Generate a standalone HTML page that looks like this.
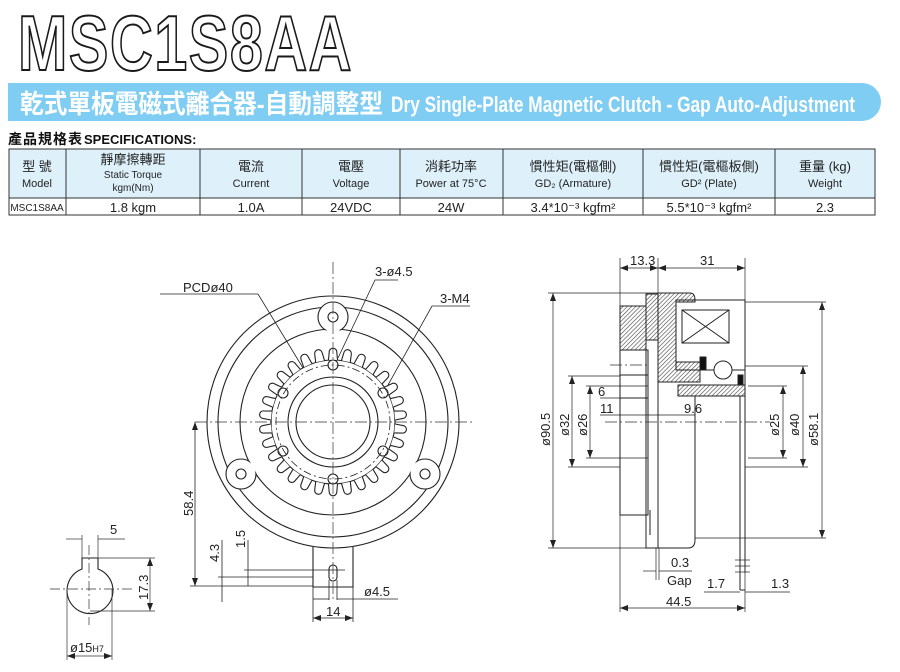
<!DOCTYPE html>
<html><head><meta charset="utf-8"><style>
html,body{margin:0;padding:0;background:#fff;width:900px;height:672px;overflow:hidden;position:relative}
svg{display:block}
text{font-family:"Liberation Sans","Noto Sans CJK TC",sans-serif}
#title{position:absolute;left:18px;top:4px;font-family:"Liberation Sans",sans-serif;font-weight:bold;font-size:78px;line-height:78px;color:#fff;-webkit-text-stroke:2px #1a1a1a;transform-origin:0 0;transform:scale(0.76,1);white-space:nowrap;letter-spacing:2px}
</style></head><body>
<svg width="900" height="672" viewBox="0 0 900 672" xmlns="http://www.w3.org/2000/svg">
<defs>
<pattern id="h" width="3" height="3" patternUnits="userSpaceOnUse" patternTransform="rotate(45)">
<rect width="3" height="3" fill="#fff"/><line x1="0" y1="0" x2="0" y2="3" stroke="#444" stroke-width="1.2"/></pattern>
<path id="tooth" d="M-4.5,-62 L-3.8,-70 A3.8,3.8 0 0 1 3.8,-70 L4.5,-62" fill="#fff" stroke="#222" stroke-width="1.1"/>
<marker id="a" markerWidth="8" markerHeight="6" refX="8" refY="3" orient="auto-start-reverse" markerUnits="userSpaceOnUse"><path d="M0,0 L8,3 L0,6 Z" fill="#222"/></marker>
</defs>

<!-- Banner -->
<path d="M8,83 H862 A19,19 0 0 1 862,121 H8 Z" fill="#7fcdf3"/>
<text x="20" y="113" font-size="26" font-weight="bold" fill="#fff" textLength="363" lengthAdjust="spacingAndGlyphs" font-family="'Noto Sans CJK TC',sans-serif">乾式單板電磁式離合器-自動調整型</text>
<text x="391" y="112" font-size="22" font-weight="bold" fill="#fff" textLength="464" lengthAdjust="spacingAndGlyphs">Dry Single-Plate Magnetic Clutch - Gap Auto-Adjustment</text>

<text x="8" y="144" font-size="14" font-weight="bold" fill="#111" font-family="'Noto Sans CJK TC',sans-serif" letter-spacing="1">產品規格表</text>
<text x="84" y="144" font-size="13" font-weight="bold" fill="#111">SPECIFICATIONS:</text>

<!-- Table -->
<rect x="9" y="149" width="866" height="49" fill="#def1fb"/>
<g stroke="#333" stroke-width="1" fill="none">
<rect x="9" y="149" width="866" height="66"/>
<line x1="9" y1="198" x2="875" y2="198"/>
<line x1="66" y1="149" x2="66" y2="215"/><line x1="200" y1="149" x2="200" y2="215"/>
<line x1="302" y1="149" x2="302" y2="215"/><line x1="400" y1="149" x2="400" y2="215"/>
<line x1="503" y1="149" x2="503" y2="215"/><line x1="643" y1="149" x2="643" y2="215"/>
<line x1="775" y1="149" x2="775" y2="215"/>
</g>
<g font-size="11" fill="#222" text-anchor="middle">
<text x="37" y="171" font-size="13">型 號</text><text x="37" y="187">Model</text>
<text x="133" y="164" font-size="13">靜摩擦轉距</text><text x="133" y="178" font-size="10">Static Torque</text><text x="133" y="191" font-size="10">kgm(Nm)</text>
<text x="251" y="171" font-size="13">電流</text><text x="251" y="187">Current</text>
<text x="351" y="171" font-size="13">電壓</text><text x="351" y="187">Voltage</text>
<text x="451" y="171" font-size="13">消耗功率</text><text x="451" y="187">Power at 75°C</text>
<text x="573" y="171" font-size="13">慣性矩(電樞側)</text><text x="573" y="187">GD₂ (Armature)</text>
<text x="709" y="171" font-size="13">慣性矩(電樞板側)</text><text x="709" y="187">GD² (Plate)</text>
<text x="825" y="171" font-size="13">重量 (kg)</text><text x="825" y="187">Weight</text>
<text x="37" y="211" font-size="10">MSC1S8AA</text>
<text x="133" y="212" font-size="13">1.8 kgm</text>
<text x="251" y="212" font-size="13">1.0A</text>
<text x="351" y="212" font-size="13">24VDC</text>
<text x="451" y="212" font-size="13">24W</text>
<text x="573" y="212" font-size="13">3.4*10⁻³ kgfm²</text>
<text x="709" y="212" font-size="13">5.5*10⁻³ kgfm²</text>
<text x="825" y="212" font-size="13">2.3</text>
</g>

<!-- Front view -->
<g stroke="#222" stroke-width="1.1" fill="none">
<circle cx="333" cy="422" r="126"/>
<circle cx="333" cy="422" r="115"/>
<path d="M313,547 V587 H353 V547"/>
<rect x="329" y="565" width="8" height="16" rx="4"/>
<circle cx="333" cy="422" r="93"/>
<circle cx="333" cy="317" r="15" fill="#fff"/>
<circle cx="241" cy="474" r="15" fill="#fff"/>
<circle cx="425" cy="474" r="15" fill="#fff"/>
<circle cx="333" cy="422" r="92" fill="#fff" stroke="none"/>
<circle cx="333" cy="422" r="62"/>
<g transform="translate(333,422)">
<use href="#tooth" transform="rotate(0)"/><use href="#tooth" transform="rotate(12)"/><use href="#tooth" transform="rotate(24)"/><use href="#tooth" transform="rotate(36)"/><use href="#tooth" transform="rotate(48)"/><use href="#tooth" transform="rotate(60)"/><use href="#tooth" transform="rotate(72)"/><use href="#tooth" transform="rotate(84)"/><use href="#tooth" transform="rotate(96)"/><use href="#tooth" transform="rotate(108)"/><use href="#tooth" transform="rotate(120)"/><use href="#tooth" transform="rotate(132)"/><use href="#tooth" transform="rotate(144)"/><use href="#tooth" transform="rotate(156)"/><use href="#tooth" transform="rotate(168)"/><use href="#tooth" transform="rotate(180)"/><use href="#tooth" transform="rotate(192)"/><use href="#tooth" transform="rotate(204)"/><use href="#tooth" transform="rotate(216)"/><use href="#tooth" transform="rotate(228)"/><use href="#tooth" transform="rotate(240)"/><use href="#tooth" transform="rotate(252)"/><use href="#tooth" transform="rotate(264)"/><use href="#tooth" transform="rotate(276)"/><use href="#tooth" transform="rotate(288)"/><use href="#tooth" transform="rotate(300)"/><use href="#tooth" transform="rotate(312)"/><use href="#tooth" transform="rotate(324)"/><use href="#tooth" transform="rotate(336)"/><use href="#tooth" transform="rotate(348)"/>
</g>
<circle cx="333" cy="422" r="57" stroke-dasharray="8,3,2,3" stroke-width="0.8"/>
<circle cx="333" cy="422" r="45"/>
<circle cx="333" cy="422" r="37"/>
<circle cx="333" cy="365" r="5"/><circle cx="283" cy="393" r="5"/><circle cx="383" cy="393" r="5"/>
<circle cx="283" cy="451" r="5"/><circle cx="383" cy="451" r="5"/><circle cx="333" cy="479" r="5"/>
<circle cx="333" cy="317" r="5"/><circle cx="241" cy="474" r="5"/><circle cx="425" cy="474" r="5"/>
</g>
<g stroke="#333" stroke-width="0.7" stroke-dasharray="12,3,2,3" fill="none">
<line x1="195" y1="422" x2="475" y2="422"/>
<line x1="333" y1="262" x2="333" y2="600"/>
</g>
<g stroke="#222" stroke-width="0.8" fill="none">
<polyline points="160,294 258,294 303,368"/>
<polyline points="398,280 375,280 338,358"/>
<polyline points="470,306 432,306 388,385"/>
<line x1="195" y1="422" x2="195" y2="586" marker-start="url(#a)" marker-end="url(#a)"/><line x1="190" y1="586" x2="313" y2="586"/>
<line x1="222" y1="540" x2="222" y2="602"/><line x1="218" y1="577" x2="313" y2="577"/>
<line x1="248" y1="540" x2="248" y2="586"/><line x1="244" y1="570" x2="345" y2="570"/>
<line x1="313" y1="587" x2="313" y2="622"/><line x1="353" y1="587" x2="353" y2="622"/>
<line x1="313" y1="618" x2="353" y2="618" marker-start="url(#a)" marker-end="url(#a)"/>
<line x1="329" y1="580" x2="329" y2="600"/><line x1="337" y1="580" x2="337" y2="600"/>
<line x1="313" y1="599" x2="329" y2="599"/><line x1="337" y1="599" x2="398" y2="599"/>
</g>
<g font-size="13" fill="#222">
<text x="183" y="292">PCDø40</text>
<text x="375" y="276">3-ø4.5</text>
<text x="440" y="303">3-M4</text>
<text x="364" y="596">ø4.5</text>
<text x="326" y="616">14</text>
<text transform="translate(193,516) rotate(-90)">58.4</text>
<text transform="translate(219,562) rotate(-90)">4.3</text>
<text transform="translate(245,548) rotate(-90)">1.5</text>
</g>

<!-- Shaft detail -->
<g stroke="#222" stroke-width="1.1" fill="none">
<path d="M82,569 V558 H98 V569 A23,23 0 1 1 82,569 Z"/>
</g>
<g stroke="#333" stroke-width="0.7" fill="none">
<line x1="50" y1="589" x2="132" y2="589" stroke-dasharray="10,3,2,3"/>
<line x1="89" y1="545" x2="89" y2="625" stroke-dasharray="10,3,2,3"/>
<line x1="82" y1="535" x2="82" y2="558"/><line x1="98" y1="535" x2="98" y2="558"/>
<line x1="66" y1="539" x2="82" y2="539"/><line x1="98" y1="539" x2="125" y2="539"/>
<line x1="98" y1="558" x2="155" y2="558"/><line x1="90" y1="611" x2="155" y2="611"/>
<line x1="150" y1="558" x2="150" y2="611" marker-start="url(#a)" marker-end="url(#a)"/>
<line x1="67" y1="589" x2="67" y2="660"/><line x1="112" y1="589" x2="112" y2="660"/>
<line x1="67" y1="656" x2="112" y2="656" marker-start="url(#a)" marker-end="url(#a)"/>
</g>
<g font-size="13" fill="#222">
<text x="110" y="534">5</text>
<text transform="translate(148,600) rotate(-90)">17.3</text>
<text x="70" y="652">ø15<tspan font-size="9">H7</tspan></text>
</g>

<!-- Side view -->
<g stroke="#222" stroke-width="1" fill="none">
<rect x="620" y="306" width="26" height="44" fill="url(#h)"/>
<rect x="620" y="350" width="28" height="165"/>
<line x1="620" y1="375" x2="648" y2="375"/>
<line x1="620" y1="398" x2="648" y2="398"/>
<rect x="646" y="294" width="12" height="254"/>
<path d="M646,294 H660 V340 H646 Z" fill="url(#h)"/>
<path d="M658,293 H690 Q695,293 695,300 V302 H676 V362 H700 V382 H658 Z" fill="url(#h)"/>
<rect x="676" y="300" width="69" height="70"/>
<rect x="682" y="310" width="47" height="33" fill="#fff"/>
<path d="M682,310 L729,343 M729,310 L682,343"/>
<path d="M678,385 H745 V396 H678 Z" fill="url(#h)"/>
<circle cx="723" cy="370" r="9" fill="#fff"/>
<rect x="700" y="357" width="6" height="13" fill="#111"/>
<rect x="738" y="375" width="5" height="10" fill="#111"/>
<path d="M658,422 V548 H688 Q695,548 695,540 V396"/>
<line x1="658" y1="396" x2="658" y2="422"/>
<line x1="745" y1="300" x2="745" y2="573"/>
<line x1="740" y1="396" x2="740" y2="590"/>
<line x1="740" y1="590" x2="745" y2="590"/>
<line x1="650" y1="510" x2="650" y2="535"/>
</g>
<g stroke="#333" stroke-width="0.7" stroke-dasharray="12,3,2,3">
<line x1="605" y1="422" x2="770" y2="422"/>
<line x1="610" y1="365" x2="650" y2="365"/>
</g>
<g stroke="#222" stroke-width="0.7" fill="none">
<line x1="620" y1="258" x2="620" y2="612"/><line x1="658" y1="258" x2="658" y2="300"/><line x1="745" y1="258" x2="745" y2="300"/>
<line x1="620" y1="268" x2="658" y2="268" marker-start="url(#a)" marker-end="url(#a)"/>
<line x1="658" y1="268" x2="745" y2="268" marker-start="url(#a)" marker-end="url(#a)"/>
<line x1="548" y1="293" x2="658" y2="293"/><line x1="548" y1="548" x2="658" y2="548"/>
<line x1="553" y1="293" x2="553" y2="548" marker-start="url(#a)" marker-end="url(#a)"/>
<line x1="568" y1="376" x2="620" y2="376"/><line x1="568" y1="467" x2="620" y2="467"/>
<line x1="572" y1="376" x2="572" y2="467" marker-start="url(#a)" marker-end="url(#a)"/>
<line x1="586" y1="386" x2="648" y2="386"/><line x1="586" y1="458" x2="648" y2="458"/>
<line x1="590" y1="386" x2="590" y2="458" marker-start="url(#a)" marker-end="url(#a)"/>
<line x1="600" y1="398" x2="620" y2="398"/><line x1="630" y1="398" x2="648" y2="398"/>
<line x1="600" y1="415" x2="695" y2="415"/>
<line x1="695" y1="404" x2="695" y2="422"/>
<line x1="745" y1="366" x2="808" y2="366"/><line x1="745" y1="467" x2="808" y2="467"/>
<line x1="803" y1="366" x2="803" y2="467" marker-start="url(#a)" marker-end="url(#a)"/>
<line x1="748" y1="386" x2="787" y2="386"/><line x1="748" y1="458" x2="787" y2="458"/>
<line x1="783" y1="386" x2="783" y2="458" marker-start="url(#a)" marker-end="url(#a)"/>
<line x1="745" y1="302" x2="826" y2="302"/><line x1="695" y1="538" x2="826" y2="538"/>
<line x1="822" y1="302" x2="822" y2="538" marker-start="url(#a)" marker-end="url(#a)"/>
<line x1="656" y1="548" x2="656" y2="580"/><line x1="659" y1="548" x2="659" y2="580"/>
<line x1="643" y1="571" x2="656" y2="571"/><line x1="659" y1="571" x2="692" y2="571"/>
<line x1="735" y1="560" x2="750" y2="560"/><line x1="735" y1="566" x2="750" y2="566"/>
<line x1="735" y1="572" x2="750" y2="572"/>
<line x1="704" y1="592" x2="740" y2="592"/><line x1="745" y1="592" x2="790" y2="592"/>
<line x1="745" y1="573" x2="745" y2="612"/>
<line x1="620" y1="608" x2="745" y2="608" marker-start="url(#a)" marker-end="url(#a)"/>
</g>
<g font-size="13" fill="#222">
<text x="630" y="265">13.3</text>
<text x="700" y="265">31</text>
<text transform="translate(550,446) rotate(-90)">ø90.5</text>
<text transform="translate(569,436) rotate(-90)">ø32</text>
<text transform="translate(587,436) rotate(-90)">ø26</text>
<text x="598" y="396">6</text>
<text x="600" y="413">11</text>
<text x="684" y="413">9.6</text>
<text transform="translate(779,436) rotate(-90)">ø25</text>
<text transform="translate(799,436) rotate(-90)">ø40</text>
<text transform="translate(818,446) rotate(-90)">ø58.1</text>
<text x="671" y="567">0.3</text>
<text x="667" y="585">Gap</text>
<text x="707" y="588">1.7</text>
<text x="771" y="588">1.3</text>
<text x="666" y="606">44.5</text>
</g>
</svg>
<div id="title">MSC1S8AA</div>
</body></html>
